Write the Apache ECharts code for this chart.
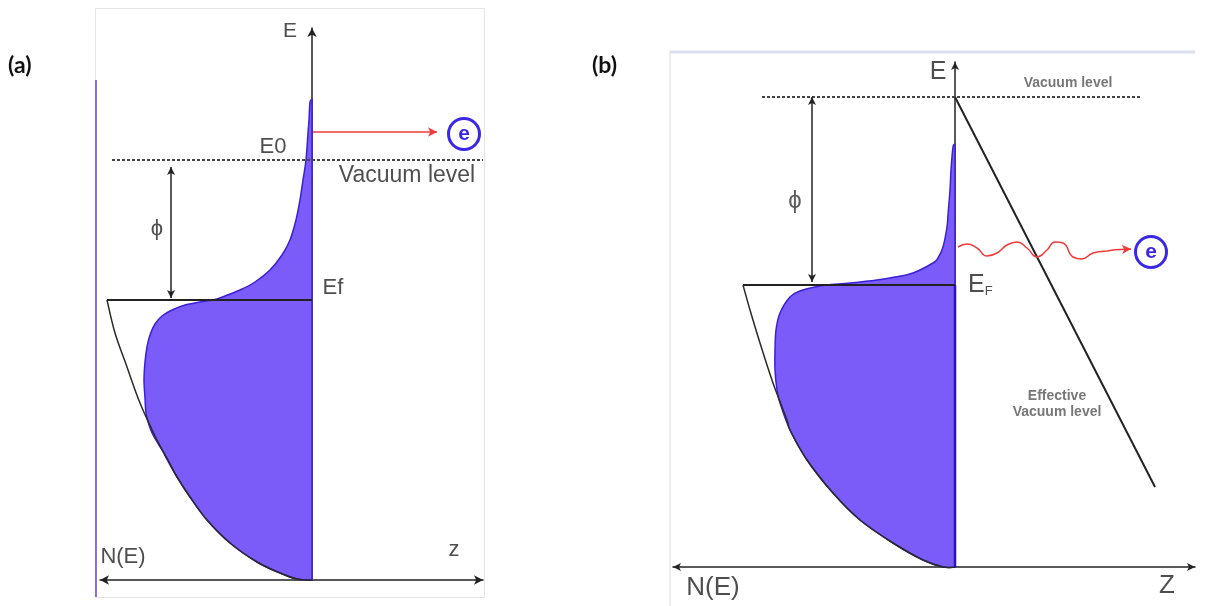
<!DOCTYPE html>
<html><head><meta charset="utf-8">
<script src="https://cdn.jsdelivr.net/npm/echarts@6/dist/echarts.min.js"></script>
<style>html,body{margin:0;padding:0;background:#fff}#c{width:1213px;height:606px}</style>
</head><body><div id="c"></div>
<script>
// ---- Panel (a): x < 0 is N(E) (density of states), x > 0 is z; y is energy (arb. units) ----
const dosA = [[0,240],[-1,239],[-1.5,230],[-2,223.5],[-3,210],[-4.5,200],[-6,190],[-8,180],[-11,170],
  [-15,162.5],[-21,155],[-28.5,149],[-36,145],[-43.5,142],[-48.5,140.3],[-56,139],[-63.5,137.5],[-70,135],
  [-75,132],[-78.5,128],[-81,122.5],[-82.5,116.5],[-83.5,109],[-84,100],[-83.5,91],[-83,83.5],[-81.5,77.5],
  [-79.5,72.5],[-75,65],[-71,57.5],[-67.5,51.5],[-61,41.5],[-52.5,30],[-41,18.5],[-27.5,9],[-16,3.5],
  [-7.5,0.5],[0,0]];
const freeA = [[-102.5,140],[-98.5,123.5],[-92.5,106.5],[-86,88.5],[-77.5,70],[-72,60],[-67.5,51.5],
  [-61,41.5],[-52.5,30],[-41,18.5],[-27.5,9],[-16,3.5],[-7.5,0.5],[0,0]];
const fermiA = [[-102.5,140],[0,140]];
const vacuumA = [[-100,210],[85.5,210]];
const phiA = [[-70.5,206.5],[-70.5,141]];
const emitA = [[0.5,224],[62.5,224]];
const electronA = [[76,223]];

// ---- Panel (b): field emission ----
const dosB = [[0,211],[-1,210],[-2,198.5],[-2.5,188.5],[-3.5,176],[-4,170],[-6,160],[-8.5,154.5],[-11,152],
  [-21,147],[-30,145],[-39,143.5],[-52.5,142],[-64,141],[-70,140],[-77.5,138],[-82.5,135],[-87.5,127],
  [-89.5,118.5],[-90,108.5],[-90,98.5],[-89,88.5],[-87.5,82],[-82.5,68.5],[-74,53.5],[-61,37],[-47.5,23.5],
  [-31,12],[-16,3.5],[-6,0],[0,0]];
const freeB = [[-106,141],[-102.5,128.5],[-97.5,112],[-91,92],[-84,73.5],[-82.5,68.5],[-74,53.5],[-61,37],
  [-47.5,23.5],[-31,12],[-16,3.5],[-6,0],[0,0]];
const fermiB = [[-106,141],[0,141]];
const vacuumB = [[-96.5,235],[92.5,235]];
const phiB = [[-71.5,235],[-71.5,142.5]];
const effVacB = [[0,235],[100,40]];
const waveB = [[1.5,160],[6,161.5],[11,159.5],[16,155.5],[21,157],[26,161],[31,162.5],[36,159.5],[41,155],
  [46,158.5],[50,162.5],[54,162],[59,155],[63.5,154],[69,157],[76,158],[80,158.6]];
const waveTipB = [[80,158.6],[88,159]];
const electronB = [[98,157.5]];

const FILL = '#7b5cf8', EDGE = '#3a20d8', INK = '#222', RED = '#f03a3a', ECOL = '#3b28e6';
const FONT = 'Liberation Sans';

function axisPair(grid, xmin, xmax, ymax, arrowSize) {
  const common = {type:'value', axisTick:{show:false}, axisLabel:{show:false}, splitLine:{show:false}, gridIndex:grid};
  return {
    x: Object.assign({}, common, {min:xmin, max:xmax,
      axisLine:{show:true, onZero:true, symbol:['arrow','arrow'], symbolSize:arrowSize, lineStyle:{color:INK, width:1.5}}}),
    y: Object.assign({}, common, {min:0, max:ymax,
      axisLine:{show:true, onZero:true, symbol:['none','arrow'], symbolSize:arrowSize, lineStyle:{color:INK, width:1.5}}})
  };
}
const axA = axisPair(0, -106, 85.5, 276, [7,9]);
const axB = axisPair(1, -141, 120, 252.5, [6,8]);

// smooth path through pixel points (Catmull-Rom drawn as cubic Beziers)
function smoothPath(px, closed) {
  let d = 'M' + px[0][0] + ' ' + px[0][1];
  for (let i = 0; i < px.length - 1; i++) {
    const p0 = px[Math.max(i - 1, 0)], p1 = px[i], p2 = px[i + 1], p3 = px[Math.min(i + 2, px.length - 1)];
    const c1 = [p1[0] + (p2[0] - p0[0]) / 6, p1[1] + (p2[1] - p0[1]) / 6];
    const c2 = [p2[0] - (p3[0] - p1[0]) / 6, p2[1] - (p3[1] - p1[1]) / 6];
    d += ' C' + c1[0] + ' ' + c1[1] + ' ' + c2[0] + ' ' + c2[1] + ' ' + p2[0] + ' ' + p2[1];
  }
  return closed ? d + ' Z' : d;
}
function curve(grid, pts, closed, style, z) {
  return {type:'custom', xAxisIndex:grid, yAxisIndex:grid, clip:false, silent:true, z:z,
    data:[[0,0]],
    renderItem: function(params, api) {
      return {type:'path', shape:{pathData: smoothPath(pts.map(p => api.coord(p)), closed)}, style:style};
    }};
}
function line(grid, data, style, extra) {
  return Object.assign({type:'line', xAxisIndex:grid, yAxisIndex:grid, data:data, showSymbol:false,
    silent:true, clip:false, z:4, lineStyle:style}, extra || {});
}
function arrowMark(seg, color, width, sym, size) {
  return {silent:true, symbol:sym, symbolSize:size, label:{show:false},
    lineStyle:{color:color, width:width, type:'solid'},
    data:[[{coord:seg[0]},{coord:seg[1]}]]};
}
function labels(grid, items) {
  return {type:'scatter', xAxisIndex:grid, yAxisIndex:grid, symbolSize:0, clip:false, silent:true, z:6,
    data: items.map(it => ({value:[it[0], it[1]],
      label:Object.assign({show:true, position:'inside', formatter:it[2], color:'#222',
        fontFamily:FONT, fontSize:22, align:'center', verticalAlign:'middle'}, it[3] || {})}))};
}
function electron(grid, data) {
  return {type:'scatter', xAxisIndex:grid, yAxisIndex:grid, data:data, symbol:'circle', symbolSize:31,
    clip:false, silent:true, z:6,
    itemStyle:{color:'#fff', borderColor:ECOL, borderWidth:3, opacity:1},
    label:{show:true, position:'inside', formatter:'e', color:ECOL, fontFamily:FONT, fontSize:21, fontWeight:'bold'}};
}

const fillStyle = {fill:FILL, stroke:EDGE, lineWidth:1.5};
const outlineStyle = {fill:null, stroke:'#2a2a2a', lineWidth:1.5};

const option = {
  animation:false,
  backgroundColor:'#fff',
  grid:[
    {left:100, top:28, width:383, height:552},
    {left:673, top:62, width:522, height:505}
  ],
  xAxis:[axA.x, axB.x],
  yAxis:[axA.y, axB.y],
  graphic:[
    {type:'rect', z:-10, shape:{x:95.5, y:8.5, width:389, height:589}, style:{fill:'none', stroke:'#e4e4e4', lineWidth:1}},
    {type:'line', z:-9, shape:{x1:96, y1:80, x2:96, y2:597}, style:{stroke:'#6a3ce8', lineWidth:1.5}},
    {type:'line', z:-9, shape:{x1:670, y1:52, x2:1195, y2:52}, style:{stroke:'#dcdfee', lineWidth:3}},
    {type:'line', z:-9, shape:{x1:670, y1:52, x2:670, y2:606}, style:{stroke:'#e6e6e6', lineWidth:1.5}},
    {type:'text', left:8, top:54, style:{text:'(a)', font:'bold 23px Lato', fill:'#111'}},
    {type:'text', left:592, top:54, style:{text:'(b)', font:'bold 23px Lato', fill:'#111'}}
  ],
  series:[
    // panel a
    curve(0, dosA, true, fillStyle, 3),
    curve(0, freeA, false, outlineStyle, 4),
    line(0, fermiA, {color:INK, width:2}, {markLine: arrowMark(phiA, INK, 1.5, ['arrow','arrow'], [6,8])}),
    line(0, vacuumA, {color:'#444', width:2, type:[3,2]}, {markLine: arrowMark(emitA, RED, 1.5, ['none','arrow'], [7,9])}),
    electron(0, electronA),
    labels(0, [
      [-11, 274.5, 'E', {fontSize:21}],
      [-19.5, 216.5, 'E0'],
      [47.5, 202, 'Vacuum level', {fontSize:23}],
      [-77.5, 175.5, 'ϕ', {fontSize:22}],
      [10.5, 146, 'Ef', {fontSize:22}],
      [-94.5, 11.5, 'N(E)', {fontSize:22}],
      [71, 15, 'z', {fontSize:22}]
    ]),
    // panel b
    curve(1, dosB, true, fillStyle, 3),
    line(1, [[0,0],[0,141]], {color:'#2a12b8', width:2.5}),
    curve(1, freeB, false, outlineStyle, 4),
    line(1, fermiB, {color:INK, width:2}, {markLine: arrowMark(phiB, INK, 1.5, ['arrow','arrow'], [6,8])}),
    line(1, vacuumB, {color:'#444', width:2, type:[3,2]}),
    line(1, effVacB, {color:INK, width:2}),
    line(1, waveB, {color:RED, width:1.5}, {smooth:0.5, markLine: arrowMark(waveTipB, RED, 1.5, ['none','arrow'], [7,9])}),
    electron(1, electronB),
    labels(1, [
      [-8.5, 247.5, 'E', {fontSize:25}],
      [56.5, 242, 'Vacuum level', {fontSize:14, fontWeight:'bold', color:'#555'}],
      [-80, 183, 'ϕ', {fontSize:24, color:'#333'}],
      [6.5, 141, '{e|E}{f|F}', {align:'left', rich:{e:{fontSize:25, fontFamily:FONT, color:'#222', verticalAlign:'bottom'}, f:{fontSize:13, fontFamily:FONT, color:'#222', verticalAlign:'bottom'}}}],
      [51, 85.5, 'Effective', {fontSize:14, fontWeight:'bold', color:'#555'}],
      [51, 77.5, 'Vacuum level', {fontSize:14, fontWeight:'bold', color:'#555'}],
      [-121, -10.5, 'N(E)', {fontSize:26}],
      [106, -9.5, 'Z', {fontSize:26}]
    ])
  ]
};
const chart = echarts.init(document.getElementById('c'), null, {renderer:'canvas'});
chart.setOption(option);
</script></body></html>
